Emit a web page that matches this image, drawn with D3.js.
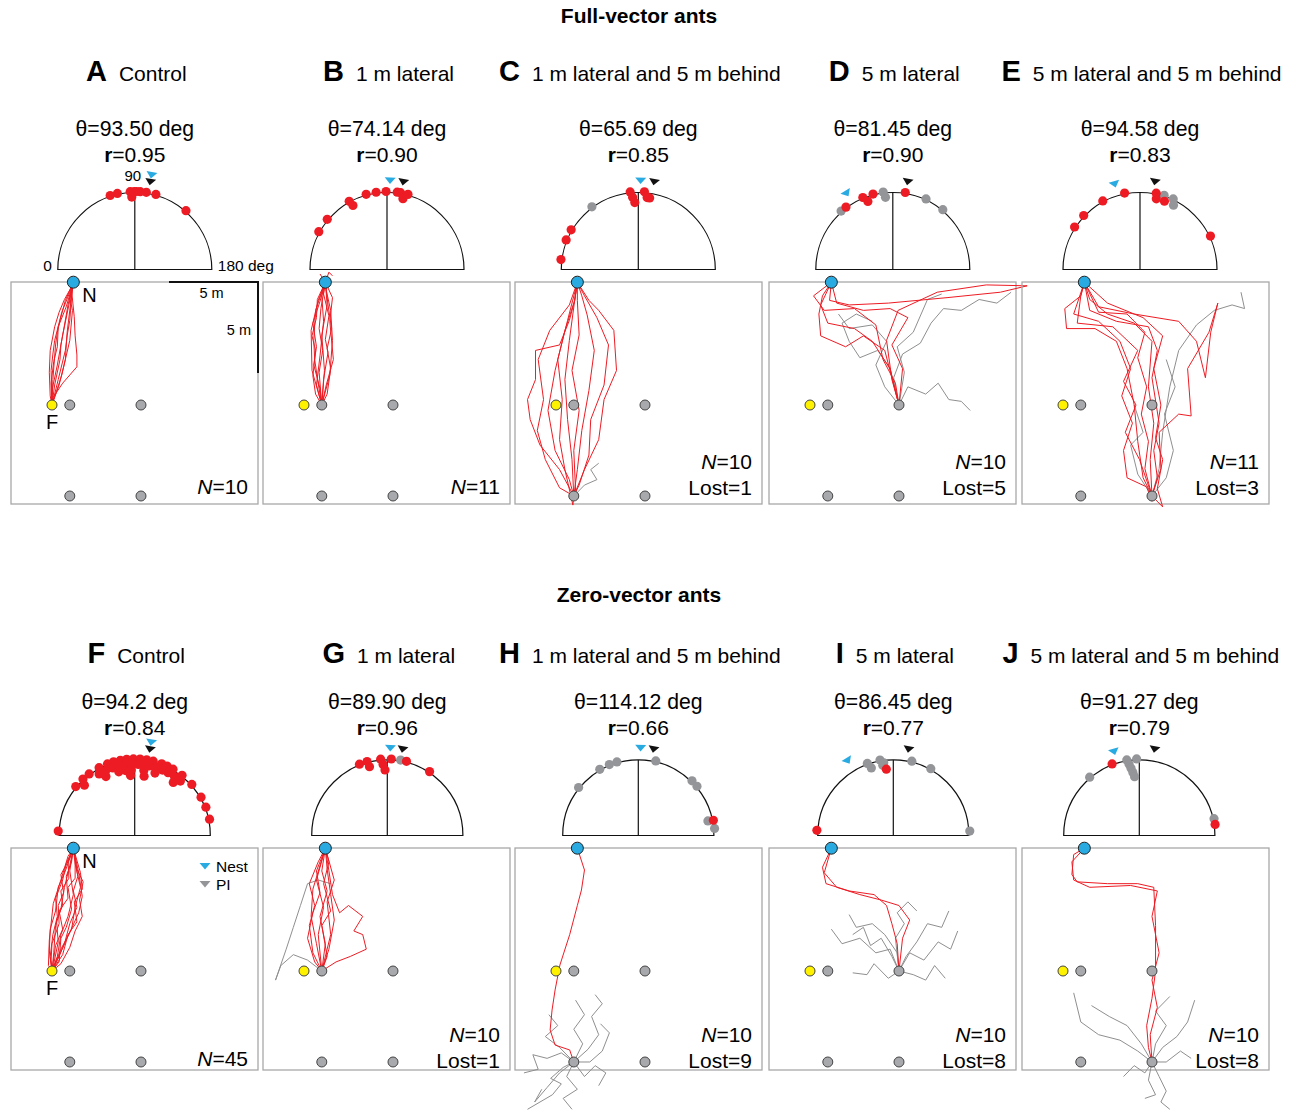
<!DOCTYPE html>
<html><head><meta charset="utf-8">
<script src="https://cdn.jsdelivr.net/npm/d3@7"></script>
<style>body{margin:0;background:#fff}svg{display:block;font-family:"Liberation Sans",Arial,Helvetica,sans-serif}</style>
</head><body><svg id="c" width="1296" height="1112"></svg>
<script>
// ---------------- DATA ----------------
const groupTitles = ["Full-vector ants", "Zero-vector ants"];
const panelLetters = ["A","B","C","D","E","F","G","H","I","J"];
const panelNames = ["Control","1 m lateral","1 m lateral and 5 m behind","5 m lateral","5 m lateral and 5 m behind",
                    "Control","1 m lateral","1 m lateral and 5 m behind","5 m lateral","5 m lateral and 5 m behind"];
const thetaValues = ["93.50","74.14","65.69","81.45","94.58","94.2","89.90","114.12","86.45","91.27"];
const rValues = ["0.95","0.90","0.85","0.90","0.83","0.84","0.96","0.66","0.77","0.79"];
const nValues = [10,11,10,10,11,45,10,10,10,10];
const lostValues = [0,0,1,5,3,0,1,9,8,8];
const nestDir = [100,92,91.5,58.8,73.5,100,92,91.5,58.7,73.3];
const piDir   = [100,100.5,100.2,99.6,99.6,100,100,100,100,100];

// sites in metres (origin = feeder F, x east, y south)
const feederPos = [0,0];
const nestPos = [1.2,-6.75];
const releasePts = [[1,0],[5,0],[1,5],[5,5]];

// headings: [angle deg, stack level]
const headRed = [
 [[71.6,0],[77.1,0],[86.6,0],[87.6,1],[89.5,0],[91.4,0],[94,0],[98.5,0],[105.7,0],[131,0]],
 [[29,0],[40,0],[61,0],[62,1],[74.5,0],[82,0],[89.3,0],[97.5,0],[100,0],[102.7,1],[105.6,0]],
 [[7.3,0],[22.3,0],[30.6,0],[84,0],[85.5,1],[87,2],[94.5,0],[97,1],[99,1]],
 [[53.1,0],[67.4,0],[69.9,1],[75.3,0],[99.2,0]],
 [[33,0],[43.8,0],[61.5,0],[78.6,0],[102,0],[103,1],[109.7,1],[154.6,0]],
 [[3.3,0],[39.7,0],[47.5,0],[53.5,0],[62.3,0],[69.2,0],[74,0],[79.2,0],[84,0],[89,0],[94,0],[99,0],[104,0],[110.6,0],[115,0],[120,0],[128.2,0],[138.2,0],[150,0],[158.3,0],[167.7,0],
  [45,1],[60,1],[66,1],[72,1],[78,1],[83,1],[88,1],[93,1],[97,1],[102,1],[107,1],[113,1],[118,1],[124,1],[130,1],
  [64,2],[76,2],[82,2],[87,2],[98,2],[108,2],[126,2],[86,3],[99,3]],
 [[68.7,0],[74.7,0],[75.5,1],[85,0],[86.6,1],[88,2],[93,0],[104.5,0],[123.5,0]],
 [[168.5,0]],
 [[3.9,0],[84,1.8]],
 [[69.2,0],[171.7,0]]
];
const headGrey = [
 [],[],
 [[53.5,0]],
 [[48.5,0],[82.9,0],[84.2,1],[115.2,0],[129.9,0]],
 [[108,0],[115.2,0],[117.5,1]],
 [],
 [[100,0]],
 [[38.8,0],[59.8,0],[67.8,0],[73.8,0],[103.2,0],[134.5,0],[140,0],[168.2,1],[174.7,0]],
 [[70.2,0],[72,1],[80,0],[81.5,1],[104,0],[119.3,0],[176.7,0],[82.5,0.6]],
 [[49.6,0],[80.6,0],[81.8,0.8],[83,1.6],[84.2,2.4],[85.4,3.2],[88,0],[167.3,0]]
];

// homing paths (metres)
const tracesA = [
 [[0,0],[-0.1,-0.5],[-0.15,-1.8],[-0.1,-3.0],[0.15,-4.3],[0.4,-5.1],[0.7,-5.8],[1.1,-6.5],[1.2,-6.75]],
 [[0,0],[0.05,-0.4],[0.6,-1.2],[1.4,-2.1],[1.4,-2.75],[1.3,-3.8],[1.25,-4.85],[1.1,-6.3],[1.2,-6.75]],
 [[0,0],[0.05,-1.4],[0.2,-3.3],[0.3,-4.0],[0.45,-4.65],[0.75,-5.75],[1,-6.3],[1.2,-6.75]],
 [[0,0],[0.15,-1.1],[0.45,-2.5],[0.5,-3.3],[0.65,-4.1],[0.9,-5.5],[1.2,-6.75]],
 [[0,0],[0.35,-1.4],[0.75,-3],[0.85,-3.8],[1,-4.65],[1.1,-6],[1.2,-6.75]],
 [[0,-0.1],[-0.05,-1.9],[0.05,-2.8],[0.15,-3.55],[0.55,-5.1],[1,-6.2],[1.2,-6.75]],
 [[0.1,-0.3],[0.55,-1.65],[1,-3.55],[1.15,-5.2],[1.0,-5.9],[1.2,-6.75]],
 [[0,0],[0,-0.8],[0.3,-2.2],[0.6,-3.85],[0.95,-5.5],[1.2,-6.75]],
 [[0.05,-0.15],[0.4,-1.1],[0.75,-2.5],[0.85,-4.0],[1.05,-5.6],[1.2,-6.75]],
 [[0,0],[-0.05,-1.2],[0.1,-2.4],[0.3,-3.2],[0.35,-4.3],[0.8,-5.4],[1.2,-6.75]]
];
const tracesB = [
 [[1,0],[0.77,-1.35],[0.6,-2.5],[0.55,-3.55],[0.65,-5.2],[1,-6.2],[1.2,-6.75]],
 [[1,0],[1.45,-1.65],[1.6,-3.55],[1.5,-5.2],[1.25,-6.3],[1.2,-6.75]],
 [[1,0],[0.45,-1.9],[0.4,-4.1],[0.8,-5.75],[1.2,-6.75]],
 [[1,0],[1.15,-1.9],[1,-3.85],[1.3,-5.5],[1.2,-6.75]],
 [[1,0],[0.7,-1.1],[0.9,-2.7],[1.1,-4.6],[1.0,-6.0],[1.2,-6.75]],
 [[1,0],[1.25,-1.1],[1.65,-2.5],[1.45,-4.6],[1.6,-5.9],[1.2,-6.75]],
 [[1,0],[0.9,-0.9],[0.55,-2.2],[0.7,-3.2],[0.5,-4.5],[0.9,-5.7],[1.2,-6.75],[1.4,-7.3],[1.6,-7.1]],
 [[1,0],[1.1,-1.4],[1.35,-2.9],[1.2,-3.6],[1.4,-4.9],[1.1,-6.1],[1.2,-6.75]],
 [[1,0],[0.85,-1.8],[1.05,-3.0],[0.85,-4.2],[0.95,-5.3],[1.2,-6.75],[0.9,-7.2]],
 [[1,0],[1.3,-0.6],[1.5,-2.0],[1.3,-3.1],[1.55,-4.2],[1.35,-5.5],[1.2,-6.75]],
 [[1,0],[0.65,-0.6],[0.5,-1.6],[0.65,-3.0],[0.45,-3.8],[0.7,-4.8],[0.75,-5.8],[1.2,-6.75]]
];
const tracesC = [
 [[1,5],[0.2,3.55],[-0.9,2.2],[-1.45,0.8],[-1.6,-0.3],[-1.15,-1.4],[-1.15,-3],[0.2,-3.3],[0.75,-4.65],[1.05,-5.75],[1.2,-6.75]],
 [[1,5],[1.6,3.55],[2.4,1.9],[2.7,-0.3],[3.4,-1.9],[3.25,-4.1],[2.4,-5.2],[1.85,-5.75],[1.2,-6.75]],
 [[1,5],[0.9,3],[0.65,0.8],[0.5,-1.4],[0.75,-3.55],[1.05,-5.75],[1.2,-6.75]],
 [[1,5],[1.2,3.55],[1.45,1.4],[1.85,-0.8],[2.15,-3],[1.75,-4.95],[1.45,-6],[1.2,-6.75]],
 [[1,5],[0.75,4.1],[-0.05,2.5],[-0.45,0.3],[-0.05,-1.9],[0.5,-4.1],[1.05,-5.75],[1.2,-6.75]],
 [[1,5],[1.3,4.4],[1.85,2.75],[1.95,0.8],[2.7,-1.1],[2.95,-3.3],[2.3,-4.8],[1.6,-6],[1.2,-6.75]],
 [[1,5],[1.1,4.7],[1,2.5],[1.3,0.3],[0.9,-1.9],[1.3,-3.85],[1.2,-5.75],[1.2,-6.75]],
 [[1,5],[0.95,5.5],[0.5,3.55],[0.2,1.9],[0.35,-0.3],[0.1,-2.5],[0.65,-4.65],[1.2,-6.75]],
 [[1,5],[0.2,4.55],[-0.6,3],[-1.05,1.4],[-0.7,-0.3],[-1,-2.5],[-0.35,-4.1],[0.75,-5.5],[1.2,-6.75]]
];
const lostC = [[[1,5],[1.6,4.4],[2.3,4.1],[1.95,3.55],[2.4,3.2]]];
const tracesD = [
 [[5,0],[4.6,-1.4],[4.3,-3.55],[4.95,-5.2],[7.15,-6.2],[9.9,-6.6],[12.2,-6.55],[10.7,-6.2],[7.7,-5.9],[4.4,-5.6],[2.2,-5.5],[1.1,-5.75],[1.2,-6.75]],
 [[5,0],[4.5,-2],[3.5,-3.5],[2.5,-4.2],[1,-4.5],[0.6,-5.5],[1.2,-6.75]],
 [[5,0],[4.6,-1.5],[4.2,-3],[3,-3.8],[2,-3.2],[0.6,-3.8],[0.5,-5],[0.7,-6],[1.2,-6.75]],
 [[5,0],[5.2,-2],[4.6,-3.3],[5.5,-4.8],[4.5,-5.3],[3,-5.2],[1.5,-5.6],[1.2,-6.75]],
 [[5,0],[4.8,-1.2],[4.1,-2.5],[3.7,-4.4],[2.5,-5.3],[0.8,-5.2],[0.2,-6],[1.2,-6.75]]
];
const lostD = [
 [[5,0],[4.7,-1.5],[5.2,-2.8],[6.2,-3.4],[6.8,-4.5],[7.5,-5.3],[8.5,-5.2],[9.5,-5.8],[10.5,-5.6],[11.3,-6.2]],
 [[5,0],[5.5,-1],[6.5,-0.6],[7.2,-1.2],[7.8,-0.3],[8.5,-0.2],[9.0,0.3]],
 [[5,0],[4.5,-2],[3.8,-3],[2.8,-2.6],[2.2,-3.5],[1.8,-4.5],[2.6,-5],[3.5,-4.6]],
 [[5,0],[5.3,-1.8],[4.9,-3.2],[5.8,-4],[6.6,-5.8],[7.4,-6.1]],
 [[5,0],[4.2,-1],[3.7,-2.2],[4.3,-3.5],[3.5,-4.4],[2.2,-4.2],[1.6,-5]]
];
const tracesE = [
 [[5,5],[4.9,3],[5.1,1],[4.8,-1],[5,-3.5],[4,-4.5],[2.5,-5],[1.5,-5.8],[1.2,-6.75]],
 [[5,5],[4.5,4],[4.2,2],[4,0],[3.6,-2],[3,-3.5],[1.8,-4.2],[0.2,-4.2],[0.1,-5.3],[1,-6],[1.2,-6.75]],
 [[5,5],[5.5,3.5],[5.4,1.5],[6.5,0.5],[7.2,0.6],[7,-2],[8.2,-4],[8.7,-5.6],[8.3,-4],[8,-1.5],[7.5,-3.5],[6.5,-4.6],[4,-5],[2,-5.4],[1.2,-6.75]],
 [[5,5],[4.6,3.5],[4.8,2],[4.4,0.5],[4.7,-1],[4.2,-2.6],[4.6,-4],[3.6,-5],[2,-5.1],[1.2,-6.75]],
 [[5,5],[5.3,4],[5.1,2.5],[5.4,1],[5,-1.5],[5.3,-3],[4.8,-4.3],[3,-4.6],[1.5,-5.2],[1.2,-6.75]],
 [[5,5.3],[4.7,4.5],[3.6,4],[3.4,2.5],[3.9,1],[3.3,-0.5],[3.8,-2],[3.2,-3.5],[2,-4.6],[0.6,-5],[1.2,-6.75]],
 [[5,5],[5.6,5.6],[5.3,4.6],[5.6,3],[5.2,1.8],[5.5,0],[5.1,-2],[5.6,-3.8],[4.5,-4.8],[2.5,-5.6],[1.2,-6.75]],
 [[5,5],[4.3,3],[3.5,1.5],[4.1,0],[3.4,-1.3],[4.2,-3],[2.8,-4.3],[0.8,-4.5],[1,-6],[1.2,-6.75]]
];
const lostE = [
 [[5,5],[5.4,3.5],[5.6,1.5],[6,-1],[6.5,-3],[7.5,-4.4],[8.5,-5.2],[9.5,-5.5],[10.2,-5.3],[10,-6.2]],
 [[5,5],[5.8,4],[6.2,2.5],[5.7,0.5],[6.3,-1],[5.8,-2.5]],
 [[5,5],[4.2,3.8],[3.8,2.2],[4.5,1.5],[4,0]]
];
const tracesF = [
 [[0,0],[-0.2,-0.3],[-0.15,-1.7],[0.07,-3.7],[0.5,-5],[0.9,-6.3],[1.2,-6.75]],
 [[0,0],[0.15,-0.3],[0.8,-1.7],[1.5,-3.2],[1.7,-4.1],[1.5,-5.4],[1.2,-6.75]],
 [[0,0],[0.3,-0.8],[0.5,-2.0],[0.9,-3.0],[1.2,-4.2],[1.0,-5.5],[1.2,-6.75]],
 [[0,0],[0.1,-1.0],[0.2,-2.5],[0.5,-3.4],[0.7,-4.6],[1.0,-5.8],[1.2,-6.75]],
 [[0,0],[0.5,-1.2],[1.1,-2.3],[1.3,-3.5],[1.6,-4.6],[1.3,-5.9],[1.2,-6.75]],
 [[0,0],[-0.1,-0.8],[0.05,-2.0],[0.3,-3.0],[0.2,-4.0],[0.6,-5.0],[0.8,-5.9],[1.2,-6.75]],
 [[0,0],[0.3,-0.6],[0.7,-1.5],[1.0,-2.6],[1.4,-3.5],[1.2,-4.4],[1.45,-5.2],[1.2,-6.75]],
 [[0,0],[0.2,-1.4],[0.6,-2.3],[0.4,-3.3],[0.9,-4.0],[0.8,-5.2],[1.1,-6.0],[1.2,-6.75]],
 [[0,0],[0.6,-0.9],[0.9,-2.0],[1.4,-2.7],[1.25,-3.8],[1.7,-4.5],[1.6,-5.4],[1.2,-6.75]],
 [[0,0],[-0.05,-0.6],[0.0,-1.5],[0.4,-2.6],[0.35,-3.6],[0.65,-4.3],[0.5,-5.3],[1.0,-6.2],[1.2,-6.75]],
 [[0,0],[0.4,-0.5],[0.5,-1.8],[0.8,-2.4],[1.1,-3.4],[0.9,-4.6],[1.3,-5.1],[1.3,-6.2],[1.2,-6.75]],
 [[0,0],[0.1,-0.4],[0.35,-1.6],[0.25,-2.8],[0.6,-3.6],[0.5,-4.4],[0.95,-5.1],[0.9,-6.1],[1.2,-6.75]],
 [[0,0],[0.5,-0.4],[1.0,-1.3],[1.3,-2.2],[1.7,-3.0],[1.55,-3.9],[1.75,-4.9],[1.4,-5.6],[1.2,-6.75]],
 [[0,0],[-0.15,-1.1],[-0.1,-2.3],[0.2,-3.3],[0.35,-4.6],[0.75,-5.5],[1.2,-6.75]]
];
const tracesG = [
 [[1,0],[0.7,-1.5],[0.4,-3],[0.5,-4.5],[0.9,-5.8],[1.2,-6.75]],
 [[1,0],[1.4,-1.2],[1.7,-2.8],[1.5,-4.2],[1.3,-5.6],[1.2,-6.75]],
 [[1,0],[0.5,-1],[0.3,-2.5],[0.6,-3.6],[0.3,-4.8],[0.8,-6],[1.2,-6.75]],
 [[1,0],[1.2,-1.5],[0.9,-3],[1.3,-4.4],[1,-5.5],[1.2,-6.75]],
 [[1,0],[1.8,-0.5],[2.6,-0.8],[3.5,-1.2],[3.3,-2],[2.8,-2.2],[3.3,-3],[2.5,-3.6],[2,-3.2],[1.6,-4.2],[1.4,-5.5],[1.2,-6.75]],
 [[1,0],[0.8,-2],[1.1,-3.5],[0.7,-5],[1.2,-6.75]],
 [[1,0],[1.5,-2],[1.3,-3.8],[1.7,-5],[1.2,-6.75]],
 [[1,0],[0.6,-0.5],[0.2,-1.8],[0.5,-3.2],[0.9,-4.3],[0.7,-5.5],[1.2,-6.75]],
 [[1,0],[1.3,-0.8],[1,-2.5],[1.5,-3.3],[1.1,-4.8],[1.4,-6],[1.2,-6.75]]
];
const lostG = [
 [[1,0],[0.2,-0.6],[-0.6,-0.9],[-1.3,-0.3],[-1.6,0.5],[-1,-1.2],[-0.6,-2.4],[-0.2,-3.6],[0.2,-4.8],[0.8,-5],[1.5,-4.8]]
];
const tracesH = [
 [[1,5],[0.77,4.34],[-0.05,4.07],[-0.33,3.24],[-0.22,2.14],[-0.05,1.04],[0.22,-0.33],[0.77,-2],[1.2,-3.6],[1.43,-4.45],[1.6,-5.55],[1.2,-6.75]]
];
const lostH = [
 [[1,5],[0.2,5.6],[-0.5,6.4],[-1.2,7.2],[-0.8,6.5]],
 [[1,5],[1.8,4.3],[2.4,3.5],[2,2.5],[2.6,1.8],[2.2,1.3]],
 [[1,5],[0.3,4.5],[-0.5,4.8],[-1.3,4.6],[-1.0,5.4],[-1.8,5.6]],
 [[1,5],[1.6,5.8],[2.2,5.2],[2.8,5.6],[2.4,6.3]],
 [[1,5],[0.6,5.8],[1.2,6.5],[0.4,7],[0.9,7.6]],
 [[1,5],[1.5,4],[1.0,3.2],[1.6,2.4],[1.1,1.6]],
 [[1,5],[0.2,4.2],[-0.6,3.6],[0.1,3.0],[-0.4,2.4]],
 [[1,5],[1.9,5.0],[2.6,4.4],[3.0,3.4],[2.5,2.9]],
 [[1,5],[0.4,5.3],[-0.3,5.9],[0.3,6.2],[-0.2,6.8],[-1.6,7.6]]
];
const tracesI = [
 [[5,0],[4.9,-1.5],[4.6,-2.6],[4.3,-3.6],[3.6,-4.2],[2.2,-4.4],[0.9,-4.8],[0.7,-5.7],[1.2,-6.75]],
 [[5,0],[5.2,-1.8],[5.6,-2.8],[5.0,-3.6],[4.0,-3.9],[2.8,-4.2],[1.5,-4.6],[0.8,-5.4],[1.2,-6.75]]
];
const lostI = [
 [[5,0],[4.5,-1.2],[3.7,-1.0],[2.8,-1.8],[1.8,-1.5],[1.2,-2.3]],
 [[5,0],[5.6,-1.0],[6.4,-0.6],[7.2,-1.6],[7.9,-1.2],[8.3,-2.2]],
 [[5,0],[4.8,-1.8],[5.3,-2.6],[4.9,-3.2],[5.5,-3.8],[6.0,-3.3]],
 [[5,0],[4.4,0.4],[3.6,-0.4],[3.2,0.2],[2.4,0.1]],
 [[5,0],[5.4,-0.8],[6.0,-1.6],[6.6,-2.6],[7.4,-2.4],[7.8,-3.3]],
 [[5,0],[4.9,-1.0],[4.2,-2.0],[3.5,-2.6],[2.6,-2.4],[2.2,-3.1]],
 [[5,0],[5.8,0.2],[6.5,0.5],[7.0,-0.3],[7.6,0.4]],
 [[5,0],[4.6,-0.8],[4.0,-1.8],[3.4,-1.4],[3.0,-2.4],[2.4,-2.0]]
];
const tracesJ = [
 [[5,5],[4.8,4.2],[4.7,3],[5,1.5],[5.2,0],[5.2,-2.5],[5.1,-4.6],[4.2,-4.8],[2.5,-4.8],[0.8,-4.9],[0.5,-5.3],[0.6,-6.4],[1.2,-6.75]],
 [[5,5],[4.9,3.5],[5.3,2],[5.0,0.5],[5.4,-1],[5.0,-3],[5.3,-4.4],[3.8,-4.7],[1.5,-4.6],[0.6,-5],[0.5,-6],[1.2,-6.75]]
];
const lostJ = [
 [[5,5],[4.2,4.4],[3.2,3.8],[2.0,3.5],[1.0,2.8],[0.6,1.2]],
 [[5,5],[5.6,4.2],[6.4,3.6],[7.0,2.8],[7.4,1.6]],
 [[5,5],[5.4,5.8],[5.8,6.6],[5.5,7.2],[6.0,7.6]],
 [[5,5],[4.6,5.6],[4.0,5.2],[3.4,5.8]],
 [[5,5],[4.4,4.0],[3.6,3.0],[2.6,2.5],[1.6,1.9]],
 [[5,5],[5.8,5.0],[6.6,4.4],[7.2,4.8]],
 [[5,5],[5.2,4.0],[5.8,3.0],[5.2,2.2],[6.0,1.4]],
 [[5,5],[4.8,6.0],[5.2,6.8],[4.6,7.0]]
];
const redTraces = [tracesA,tracesB,tracesC,tracesD,tracesE,tracesF,tracesG,tracesH,tracesI,tracesJ];
const greyTraces = [[],[],lostC,lostD,lostE,[],lostG,lostH,lostI,lostJ];

// ---------------- LAYOUT ----------------
const RED="#ED1C24", GREY="#939598", TRACEGREY="#8f8f8f", BLUE="#29ABE2";
const svg = d3.select("#c");
const W=247, H=222;
const colLeft=[11,263,515,769,1022];
const rowTop=[282,848];
const semiCx=[[134.8,387,638.3,892.8,1140],[134.7,387.3,638.3,893.3,1139.3]];
const semiR=[77,75.6];
const groupY=[23,602];
const titleY=[81,663], thetaY=[136,709], rY=[162,735];
const nBase=[[212,187,213],[218,194,220]];

const x = d3.scaleLinear().domain([-2.303, 11.573]).range([0, W]);
const y = d3.scaleLinear().domain([-6.76, 5.44]).range([0, H]);
const ang = d3.scaleLinear().domain([0,180]).range([Math.PI, 0]);
const line = d3.line().x(d=>x(d[0])).y(d=>y(d[1]));

groupTitles.forEach((t,i)=>{
  svg.append("text").attr("x",639).attr("y",groupY[i]).attr("text-anchor","middle")
    .attr("font-weight","bold").attr("font-size",21).text(t);
});

const tri = "M-5.5,-3 L5.5,-3 L0,3.5 Z";

for (let i=0;i<10;i++){
  const row=Math.floor(i/5), col=i%5;
  const cx=semiCx[row][col], cy=rowTop[row]-12.5, R=semiR[row];

  // titles
  const tt = svg.append("text").attr("x",cx+1.5).attr("y",titleY[row]).attr("text-anchor","middle");
  tt.append("tspan").attr("font-weight","bold").attr("font-size",29).text(panelLetters[i]);
  tt.append("tspan").attr("dx",12).attr("font-size",21).text(panelNames[i]);
  svg.append("text").attr("x",cx).attr("y",thetaY[row]).attr("text-anchor","middle")
    .attr("font-size",21.2).text("\u03b8="+thetaValues[i]+" deg");
  const rt = svg.append("text").attr("x",cx).attr("y",rY[row]).attr("text-anchor","middle").attr("font-size",21);
  rt.append("tspan").attr("font-weight","bold").text("r");
  rt.append("tspan").text("="+rValues[i]);

  // semicircle
  const sg = svg.append("g").attr("transform",`translate(${cx},${cy})`);
  const p = d3.path(); p.moveTo(-R,0); p.arc(0,0,R,Math.PI,2*Math.PI); p.closePath();
  sg.append("path").attr("d",p.toString()).attr("fill","none").attr("stroke","#111").attr("stroke-width",1.2);
  sg.append("line").attr("x1",0).attr("y1",0).attr("x2",0).attr("y2",-R).attr("stroke","#111").attr("stroke-width",1.2);
  const dotPos = (d)=>{const r=R+1-d[1]*5.5, a=ang(d[0]); return [r*Math.cos(a), -r*Math.sin(a)];};
  headGrey[i].forEach(d=>{const q=dotPos(d); sg.append("circle").attr("cx",q[0]).attr("cy",q[1]).attr("r",4.6).attr("fill",GREY);});
  headRed[i].forEach(d=>{const q=dotPos(d); sg.append("circle").attr("cx",q[0]).attr("cy",q[1]).attr("r",4.6).attr("fill",RED);});
  const same = Math.abs(nestDir[i]-piDir[i])<3;
  const triAt=(deg,r,fill)=>{const a=ang(deg);
    sg.append("path").attr("d",tri).attr("fill",fill)
      .attr("transform",`translate(${r*Math.cos(a)},${-r*Math.sin(a)}) rotate(${deg-90})`);};
  triAt(piDir[i], R+12, "#111");
  triAt(nestDir[i], same? R+19 : R+12, BLUE);
  if (i===0){
    svg.append("text").attr("x",cx-2).attr("y",cy-R-12).attr("text-anchor","middle").attr("font-size",15).text("90");
    svg.append("text").attr("x",cx-R-6).attr("y",cy+1).attr("text-anchor","end").attr("font-size",15.5).text("0");
    svg.append("text").attr("x",cx+R+6).attr("y",cy+1).attr("text-anchor","start").attr("font-size",15.5).text("180 deg");
  }

  // box
  const g = svg.append("g").attr("transform",`translate(${colLeft[col]},${rowTop[row]})`);
  g.append("rect").attr("width",W).attr("height",H).attr("fill","none").attr("stroke","#a8a8a8").attr("stroke-width",1.3);
  greyTraces[i].forEach(t=>g.append("path").attr("d",line(t)).attr("fill","none").attr("stroke",TRACEGREY).attr("stroke-width",1));
  redTraces[i].forEach(t=>g.append("path").attr("d",line(t)).attr("fill","none").attr("stroke",RED).attr("stroke-width",1));
  releasePts.forEach(q=>g.append("circle").attr("cx",x(q[0])).attr("cy",y(q[1])).attr("r",5).attr("fill","#a7a9ac").attr("stroke","#444").attr("stroke-width",1));
  g.append("circle").attr("cx",x(feederPos[0])).attr("cy",y(feederPos[1])).attr("r",5).attr("fill","#FFF200").attr("stroke","#444").attr("stroke-width",1);
  g.append("circle").attr("cx",x(nestPos[0])).attr("cy",y(nestPos[1])).attr("r",6).attr("fill",BLUE).attr("stroke","#222").attr("stroke-width",1);

  if (i===0 || i===5){
    g.append("text").attr("x",x(nestPos[0])+9).attr("y",y(nestPos[1])+20).attr("font-size",20).text("N");
    g.append("text").attr("x",x(feederPos[0])).attr("y",y(feederPos[1])+24).attr("text-anchor","middle").attr("font-size",20).text("F");
  }
  if (i===0){
    const s5 = x(5)-x(0);
    g.append("path").attr("d",`M${W-s5},0 H${W} V${y(-6.76+5)}`).attr("fill","none").attr("stroke","#111").attr("stroke-width",2);
    g.append("text").attr("x",W-s5/2-2).attr("y",16).attr("text-anchor","middle").attr("font-size",14.5).text("5 m");
    g.append("text").attr("x",W-7).attr("y",53).attr("text-anchor","end").attr("font-size",14.5).text("5 m");
  }
  if (i===5){
    g.append("path").attr("d",tri).attr("fill",BLUE).attr("transform","translate(194,18)");
    g.append("text").attr("x",205).attr("y",24).attr("font-size",15.5).text("Nest");
    g.append("path").attr("d",tri).attr("fill",GREY).attr("transform","translate(194,36)");
    g.append("text").attr("x",205).attr("y",42).attr("font-size",15.5).text("PI");
  }
  const nb = nBase[row];
  const nt = g.append("text").attr("x",W-10).attr("y", lostValues[i]? nb[1]:nb[0]).attr("text-anchor","end").attr("font-size",21);
  nt.append("tspan").attr("font-style","italic").text("N");
  nt.append("tspan").text("="+nValues[i]);
  if (lostValues[i]){
    g.append("text").attr("x",W-10).attr("y",nb[2]).attr("text-anchor","end").attr("font-size",21).text("Lost="+lostValues[i]);
  }
}
</script></body></html>
